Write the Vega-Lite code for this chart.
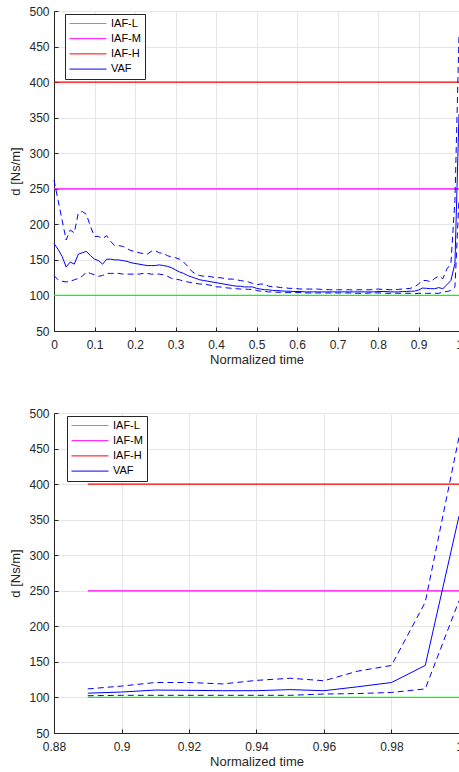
{
  "$schema": "https://vega.github.io/schema/vega-lite/v6.json",
  "padding": {"left": 9, "top": 5, "right": 0, "bottom": 0},
  "background": "white",
  "config": {
    "font": "Liberation Sans",
    "view": {"stroke": null},
    "axis": {
      "labelFont": "Liberation Sans", "labelFontSize": 12, "labelColor": "#262626", "labelOverlap": false,
      "titleFont": "Liberation Sans", "titleFontSize": 13, "titleFontWeight": "normal", "titleColor": "#262626",
      "domainColor": "#262626", "domainWidth": 1, "tickColor": "#262626", "tickSize": -4,
      "gridColor": "#e6e6e6", "gridWidth": 1
    },
    "axisX": {"labelPadding": 12, "titlePadding": 3, "labelFlush": false},
    "axisY": {"labelPadding": 9, "titlePadding": 6},
    "legend": {
      "orient": "none", "title": null, "symbolType": "stroke", "symbolSize": 1369, "symbolStrokeWidth": 1.2,
      "labelFont": "Liberation Sans", "labelFontSize": 11, "labelColor": "#000000", "labelOffset": 4,
      "strokeColor": "#262626", "fillColor": "white", "padding": 4, "rowPadding": 3.2, "clipHeight": 11
    },
    "line": {"strokeWidth": 1}
  },
  "datasets": {
    "iaf": [
      {"series": "IAF-L", "t": 0, "d": 100}, {"series": "IAF-L", "t": 0.89, "d": 100}, {"series": "IAF-L", "t": 1, "d": 100},
      {"series": "IAF-M", "t": 0, "d": 250}, {"series": "IAF-M", "t": 0.89, "d": 250}, {"series": "IAF-M", "t": 1, "d": 250},
      {"series": "IAF-H", "t": 0, "d": 400}, {"series": "IAF-H", "t": 0.89, "d": 400}, {"series": "IAF-H", "t": 1, "d": 400}
    ],
    "vaf": [
      {"t": 0.00, "m": 173, "u": 262, "l": 128},
      {"t": 0.01, "m": 165, "u": 234, "l": 122},
      {"t": 0.02, "m": 155, "u": 206, "l": 120},
      {"t": 0.03, "m": 140, "u": 178, "l": 119},
      {"t": 0.04, "m": 147, "u": 192, "l": 120},
      {"t": 0.05, "m": 144, "u": 188, "l": 122},
      {"t": 0.06, "m": 158, "u": 216, "l": 124},
      {"t": 0.07, "m": 160, "u": 218, "l": 127},
      {"t": 0.08, "m": 162, "u": 214, "l": 133},
      {"t": 0.09, "m": 156, "u": 197, "l": 131},
      {"t": 0.10, "m": 151, "u": 183, "l": 129},
      {"t": 0.11, "m": 149, "u": 183, "l": 127},
      {"t": 0.12, "m": 144, "u": 180, "l": 128},
      {"t": 0.13, "m": 151, "u": 184, "l": 131},
      {"t": 0.14, "m": 151, "u": 176, "l": 131},
      {"t": 0.15, "m": 150, "u": 170, "l": 131},
      {"t": 0.16, "m": 150, "u": 170, "l": 131},
      {"t": 0.17, "m": 149, "u": 169, "l": 130},
      {"t": 0.18, "m": 148, "u": 166, "l": 130},
      {"t": 0.19, "m": 146, "u": 163, "l": 130},
      {"t": 0.20, "m": 145, "u": 162, "l": 130},
      {"t": 0.21, "m": 144, "u": 160, "l": 130},
      {"t": 0.22, "m": 143, "u": 159, "l": 131},
      {"t": 0.23, "m": 142, "u": 158, "l": 131},
      {"t": 0.24, "m": 142, "u": 162, "l": 130},
      {"t": 0.25, "m": 142, "u": 163, "l": 130},
      {"t": 0.26, "m": 143, "u": 160, "l": 130},
      {"t": 0.27, "m": 142, "u": 159, "l": 129},
      {"t": 0.28, "m": 141, "u": 156, "l": 127},
      {"t": 0.29, "m": 139, "u": 154, "l": 124},
      {"t": 0.30, "m": 136, "u": 153, "l": 123},
      {"t": 0.31, "m": 133, "u": 151, "l": 122},
      {"t": 0.32, "m": 131, "u": 147, "l": 120},
      {"t": 0.33, "m": 128, "u": 141, "l": 119},
      {"t": 0.34, "m": 126, "u": 134, "l": 118},
      {"t": 0.35, "m": 124, "u": 130, "l": 117},
      {"t": 0.36, "m": 122, "u": 128, "l": 116},
      {"t": 0.37, "m": 121, "u": 127, "l": 116},
      {"t": 0.38, "m": 120, "u": 127, "l": 115},
      {"t": 0.39, "m": 119, "u": 126, "l": 114},
      {"t": 0.40, "m": 118, "u": 125, "l": 112},
      {"t": 0.41, "m": 117, "u": 125, "l": 112},
      {"t": 0.42, "m": 116, "u": 124, "l": 111},
      {"t": 0.43, "m": 115, "u": 123, "l": 110.5},
      {"t": 0.44, "m": 114, "u": 123, "l": 110},
      {"t": 0.45, "m": 113, "u": 122, "l": 109.5},
      {"t": 0.46, "m": 113, "u": 121, "l": 109},
      {"t": 0.47, "m": 112, "u": 120, "l": 109},
      {"t": 0.48, "m": 112, "u": 119, "l": 108.6},
      {"t": 0.49, "m": 112, "u": 117, "l": 108.5},
      {"t": 0.50, "m": 110, "u": 115, "l": 107},
      {"t": 0.51, "m": 109, "u": 116, "l": 106},
      {"t": 0.52, "m": 108, "u": 116, "l": 105.5},
      {"t": 0.53, "m": 108, "u": 113, "l": 105},
      {"t": 0.54, "m": 107, "u": 112, "l": 105},
      {"t": 0.55, "m": 107, "u": 112, "l": 104.5},
      {"t": 0.56, "m": 106.5, "u": 111, "l": 104.5},
      {"t": 0.57, "m": 106, "u": 111, "l": 104},
      {"t": 0.58, "m": 106, "u": 110, "l": 104},
      {"t": 0.59, "m": 105.5, "u": 110, "l": 104},
      {"t": 0.60, "m": 105.5, "u": 109.5, "l": 104},
      {"t": 0.61, "m": 105.5, "u": 109, "l": 104},
      {"t": 0.62, "m": 105, "u": 109, "l": 103.5},
      {"t": 0.63, "m": 105, "u": 109, "l": 103.5},
      {"t": 0.64, "m": 105, "u": 109, "l": 103.5},
      {"t": 0.65, "m": 105, "u": 109, "l": 103.5},
      {"t": 0.66, "m": 105, "u": 108.5, "l": 103.5},
      {"t": 0.67, "m": 105, "u": 108.5, "l": 103.5},
      {"t": 0.68, "m": 105, "u": 108, "l": 103.5},
      {"t": 0.69, "m": 105, "u": 108, "l": 103.5},
      {"t": 0.70, "m": 105, "u": 108, "l": 103.5},
      {"t": 0.71, "m": 105, "u": 108, "l": 103.5},
      {"t": 0.72, "m": 105, "u": 108, "l": 103.5},
      {"t": 0.73, "m": 105, "u": 108, "l": 103.5},
      {"t": 0.74, "m": 105, "u": 107.5, "l": 103},
      {"t": 0.75, "m": 105, "u": 108, "l": 103},
      {"t": 0.76, "m": 105, "u": 108, "l": 103},
      {"t": 0.77, "m": 105, "u": 108, "l": 103},
      {"t": 0.78, "m": 105, "u": 108, "l": 103.5},
      {"t": 0.79, "m": 105, "u": 108.5, "l": 103.5},
      {"t": 0.80, "m": 105.5, "u": 109, "l": 103.5},
      {"t": 0.81, "m": 105.5, "u": 108.5, "l": 103.5},
      {"t": 0.82, "m": 105.5, "u": 108.5, "l": 103},
      {"t": 0.83, "m": 105, "u": 108, "l": 103},
      {"t": 0.84, "m": 105, "u": 108, "l": 103},
      {"t": 0.85, "m": 105, "u": 108.5, "l": 103},
      {"t": 0.86, "m": 105.5, "u": 109, "l": 103},
      {"t": 0.87, "m": 105.5, "u": 109.5, "l": 103},
      {"t": 0.88, "m": 106, "u": 110, "l": 103},
      {"t": 0.89, "m": 106, "u": 112, "l": 102.4},
      {"t": 0.90, "m": 107.6, "u": 116, "l": 103},
      {"t": 0.91, "m": 110.4, "u": 121, "l": 103},
      {"t": 0.92, "m": 110, "u": 121, "l": 103},
      {"t": 0.93, "m": 109.5, "u": 119, "l": 103},
      {"t": 0.94, "m": 109.5, "u": 124, "l": 103},
      {"t": 0.95, "m": 111, "u": 127, "l": 103},
      {"t": 0.96, "m": 109.5, "u": 123.5, "l": 104.8},
      {"t": 0.97, "m": 115, "u": 137, "l": 105.5},
      {"t": 0.98, "m": 121, "u": 145, "l": 107},
      {"t": 0.99, "m": 145, "u": 234, "l": 112},
      {"t": 1.00, "m": 355, "u": 466, "l": 236}
    ]
  },
  "spacing": 41,
  "resolve": {"scale": {"color": "independent"}, "legend": {"color": "independent"}},
  "vconcat": [
    {
      "width": 405, "height": 320,
      "layer": [
        {
          "data": {"name": "iaf"},
          "mark": {"type": "line", "strokeWidth": 1.2},
          "encoding": {
            "x": {"field": "t", "type": "quantitative", "title": "Normalized time", "scale": {"domain": [0, 1], "nice": false},
                  "axis": {"values": [0, 0.1, 0.2, 0.3, 0.4, 0.5, 0.6, 0.7, 0.8, 0.9, 1], "tickCount": 20, "format": "~g", "labelOverlap": false}},
            "y": {"field": "d", "type": "quantitative", "title": "d [Ns/m]", "scale": {"domain": [50, 500], "nice": false},
                  "axis": {"values": [50, 100, 150, 200, 250, 300, 350, 400, 450, 500], "tickCount": 20, "labelOverlap": false}},
            "color": {"field": "series", "type": "nominal",
                      "scale": {"domain": ["IAF-L", "IAF-M", "IAF-H", "VAF"], "range": ["#00ff00", "#ff00ff", "#ff0000", "#0000ff"]},
                      "legend": {"legendX": 11, "legendY": 3}}
          }
        },
        {
          "data": {"name": "vaf"},
          "mark": {"type": "line", "strokeWidth": 1},
          "encoding": {
            "x": {"field": "t", "type": "quantitative", "title": "Normalized time"},
            "y": {"field": "m", "type": "quantitative", "title": "d [Ns/m]"},
            "color": {"datum": "VAF", "type": "nominal"}
          }
        },
        {
          "data": {"name": "vaf"},
          "mark": {"type": "line", "strokeWidth": 1, "color": "#0000ff", "strokeDash": [6, 4]},
          "encoding": {
            "x": {"field": "t", "type": "quantitative", "title": "Normalized time"},
            "y": {"field": "u", "type": "quantitative", "title": "d [Ns/m]"}
          }
        },
        {
          "data": {"name": "vaf"},
          "mark": {"type": "line", "strokeWidth": 1, "color": "#0000ff", "strokeDash": [6, 4]},
          "encoding": {
            "x": {"field": "t", "type": "quantitative", "title": "Normalized time"},
            "y": {"field": "l", "type": "quantitative", "title": "d [Ns/m]"}
          }
        }
      ]
    },
    {
      "width": 405, "height": 320,
      "layer": [
        {
          "data": {"name": "iaf"},
          "transform": [{"filter": "datum.t >= 0.89"}],
          "mark": {"type": "line", "strokeWidth": 1.2},
          "encoding": {
            "x": {"field": "t", "type": "quantitative", "title": "Normalized time", "scale": {"domain": [0.88, 1], "nice": false},
                  "axis": {"values": [0.88, 0.9, 0.92, 0.94, 0.96, 0.98, 1], "tickCount": 20, "format": "~g", "labelOverlap": false}},
            "y": {"field": "d", "type": "quantitative", "title": "d [Ns/m]", "scale": {"domain": [50, 500], "nice": false},
                  "axis": {"values": [50, 100, 150, 200, 250, 300, 350, 400, 450, 500], "tickCount": 20, "labelOverlap": false}},
            "color": {"field": "series", "type": "nominal",
                      "scale": {"domain": ["IAF-L", "IAF-M", "IAF-H", "VAF"], "range": ["#00ff00", "#ff00ff", "#ff0000", "#0000ff"]},
                      "legend": {"legendX": 13, "legendY": 3}}
          }
        },
        {
          "data": {"name": "vaf"},
          "transform": [{"filter": "datum.t >= 0.89"}],
          "mark": {"type": "line", "strokeWidth": 1},
          "encoding": {
            "x": {"field": "t", "type": "quantitative", "title": "Normalized time"},
            "y": {"field": "m", "type": "quantitative", "title": "d [Ns/m]"},
            "color": {"datum": "VAF", "type": "nominal"}
          }
        },
        {
          "data": {"name": "vaf"},
          "transform": [{"filter": "datum.t >= 0.89"}],
          "mark": {"type": "line", "strokeWidth": 1, "color": "#0000ff", "strokeDash": [6, 4]},
          "encoding": {
            "x": {"field": "t", "type": "quantitative", "title": "Normalized time"},
            "y": {"field": "u", "type": "quantitative", "title": "d [Ns/m]"}
          }
        },
        {
          "data": {"name": "vaf"},
          "transform": [{"filter": "datum.t >= 0.89"}],
          "mark": {"type": "line", "strokeWidth": 1, "color": "#0000ff", "strokeDash": [6, 4]},
          "encoding": {
            "x": {"field": "t", "type": "quantitative", "title": "Normalized time"},
            "y": {"field": "l", "type": "quantitative", "title": "d [Ns/m]"}
          }
        }
      ]
    }
  ]
}
